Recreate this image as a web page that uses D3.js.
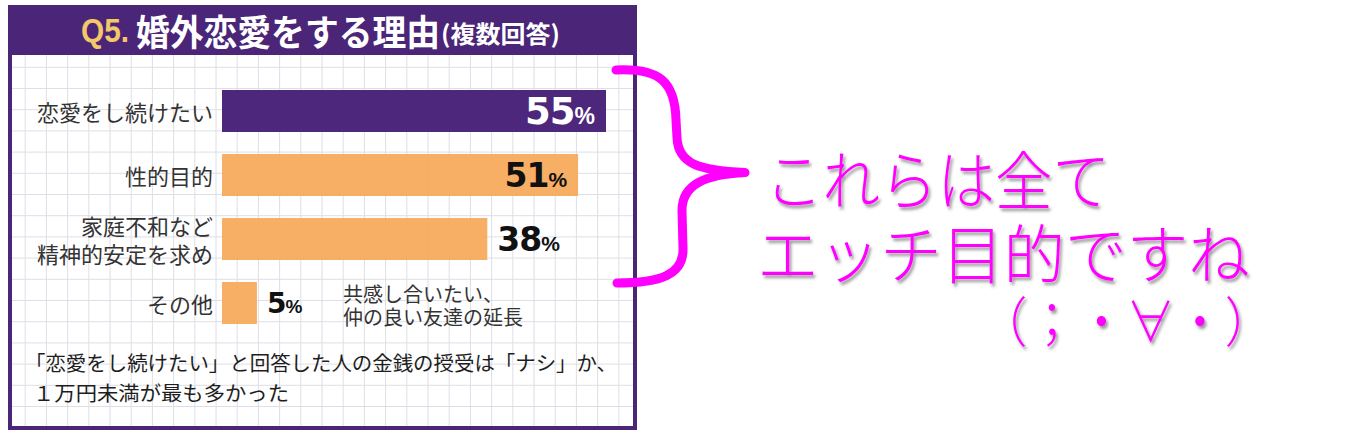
<!DOCTYPE html>
<html lang="ja">
<head>
<meta charset="utf-8">
<script src="https://cdn.jsdelivr.net/npm/d3@7"></script>
<style>
  body { margin: 0; background: #fff; }
  svg { display: block; }
</style>
</head>
<body>
<svg id="chart" width="1352" height="436"></svg>
<script>
// données
const titleQ = "Q5.";
const titleMain = "婚外恋愛をする理由";
const titleSub = "(複数回答)";
const categories = ["恋愛をし続けたい", "性的目的", "家庭不和など\n精神的安定を求め", "その他"];
const values = [55, 51, 38, 5];
const unit = "%";
const otherNote = ["共感し合いたい、", "仲の良い友達の延長"];
const footnote = ["「恋愛をし続けたい」と回答した人の金銭の授受は「ナシ」か、", "１万円未満が最も多かった"];
const comment = ["これらは全て", "エッチ目的ですね", "（；・∀・）"];

const purple = "#4a2578";
const barPurple = "#4d277c";
const orange = "#f6a95b";
const jp = "'Noto Sans CJK JP', 'Noto Sans', sans-serif";

const svg = d3.select("#chart");

const defs = svg.append("defs");
defs.append("filter").attr("id", "shadow")
  .attr("filterUnits", "userSpaceOnUse")
  .attr("x", 0).attr("y", 0).attr("width", 1352).attr("height", 436)
  .append("feDropShadow")
  .attr("dx", 2).attr("dy", 3).attr("stdDeviation", 1.6)
  .attr("flood-color", "#444").attr("flood-opacity", 0.55);

// panneau
const panel = {left: 8, right: 637, top: 5, head: 55, bottom: 430};

svg.append("rect")
  .attr("x", panel.left).attr("y", panel.top)
  .attr("width", panel.right - panel.left).attr("height", panel.bottom - panel.top)
  .attr("fill", purple);
svg.append("rect")
  .attr("x", panel.left + 4).attr("y", panel.head)
  .attr("width", panel.right - panel.left - 8).attr("height", panel.bottom - panel.head - 4)
  .attr("fill", "#fff");

// quadrillage
const grid = svg.append("g").attr("stroke", "#dedee6").attr("stroke-width", 1);
d3.range(4, panel.right, 21.2).filter(v => v > panel.left + 4 && v < panel.right - 4).forEach(v => {
  grid.append("line").attr("x1", v).attr("x2", v).attr("y1", panel.head).attr("y2", panel.bottom - 4);
});
d3.range(3.7, panel.bottom, 21.2).filter(v => v > panel.head && v < panel.bottom - 4).forEach(v => {
  grid.append("line").attr("x1", panel.left + 4).attr("x2", panel.right - 4).attr("y1", v).attr("y2", v);
});

// titre
const ty = 30;
svg.append("text").text(titleQ)
  .attr("x", 81).attr("y", ty).attr("dominant-baseline", "central")
  .attr("font-family", "'Liberation Sans', Arial, sans-serif").attr("font-weight", 700)
  .attr("font-size", 33).attr("fill", "#f3c868")
  .attr("textLength", 48).attr("lengthAdjust", "spacingAndGlyphs");
svg.append("text").text(titleMain)
  .attr("x", 136).attr("y", ty).attr("dominant-baseline", "central")
  .attr("font-family", jp).attr("font-weight", 700)
  .attr("font-size", 36).attr("fill", "#fff")
  .attr("textLength", 304).attr("lengthAdjust", "spacingAndGlyphs");
svg.append("text").text(titleSub)
  .attr("x", 441).attr("y", ty + 2).attr("dominant-baseline", "central")
  .attr("font-family", jp).attr("font-weight", 700)
  .attr("font-size", 24).attr("fill", "#fff")
  .attr("textLength", 119).attr("lengthAdjust", "spacingAndGlyphs");

// échelles
const y = d3.scaleBand()
  .domain(categories)
  .range([90, 324])
  .paddingInner(0.344)
  .paddingOuter(0);

const x = d3.scaleLinear()
  .domain([0, 55])
  .range([222, 606]);

// barres
svg.append("g").selectAll("rect")
  .data(values)
  .join("rect")
  .attr("x", x(0))
  .attr("y", (d, i) => y(categories[i]))
  .attr("width", d => x(d) - x(0))
  .attr("height", y.bandwidth())
  .attr("fill", (d, i) => i === 0 ? barPurple : orange)
  .attr("fill-opacity", (d, i) => i === 0 ? 1 : 0.94);

// libellés des catégories
const labels = svg.append("g")
  .attr("font-family", jp).attr("font-size", 22).attr("fill", "#333")
  .attr("text-anchor", "end");
categories.forEach(c => {
  const lines = c.split("\n");
  const mid = y(c) + y.bandwidth() / 2;
  lines.forEach((l, k) => {
    labels.append("text").text(l)
      .attr("x", 213)
      .attr("y", mid + (k - (lines.length - 1) / 2) * 28)
      .attr("dominant-baseline", "central");
  });
});

// valeurs
const numSize = [37, 33, 33, 28];
const pctSize = [23, 21, 21, 19];
values.forEach((v, i) => {
  const inside = x(v) - x(0) > 300;
  const mid = y(categories[i]) + y.bandwidth() / 2;
  const t = svg.append("text")
    .attr("x", inside ? x(v) - 11 : x(v) + 10)
    .attr("y", mid + numSize[i] * 0.36)
    .attr("text-anchor", inside ? "end" : "start")
    .attr("fill", inside && i === 0 ? "#fff" : "#111");
  t.append("tspan").text(v)
    .attr("font-family", "'DejaVu Sans', sans-serif").attr("font-weight", 700)
    .attr("font-size", numSize[i]).attr("letter-spacing", -1);
  t.append("tspan").text(unit)
    .attr("font-family", "'Liberation Sans', Arial, sans-serif").attr("font-weight", 700)
    .attr("font-size", pctSize[i]);
});

// note à côté de "その他"
const lastMid = y(categories[3]) + y.bandwidth() / 2;
otherNote.forEach((l, k) => {
  svg.append("text").text(l)
    .attr("x", 343).attr("y", lastMid - 10 + k * 23)
    .attr("dominant-baseline", "central")
    .attr("font-family", jp).attr("font-size", 20).attr("fill", "#333");
});

// note de bas
svg.append("text").text(footnote[0])
  .attr("x", 25).attr("y", 362).attr("dominant-baseline", "central")
  .attr("font-family", jp).attr("font-size", 20).attr("fill", "#1e1e1e")
  .attr("textLength", 592).attr("lengthAdjust", "spacingAndGlyphs");
svg.append("text").text(footnote[1])
  .attr("x", 33).attr("y", 392).attr("dominant-baseline", "central")
  .attr("font-family", jp).attr("font-size", 20).attr("fill", "#1e1e1e")
  .attr("textLength", 256).attr("lengthAdjust", "spacingAndGlyphs");

// accolade magenta
const bTop = y(categories[0]) - 20;
const bBot = y(categories[2]) + y.bandwidth() + 23;
const bMid = (bTop + bBot) / 2 - 4;
const brace = d3.path();
brace.moveTo(616, bTop);
brace.bezierCurveTo(660, bTop - 2, 675, bTop + 12, 676, bTop + 50);
brace.lineTo(677, bMid - 35);
brace.bezierCurveTo(678, bMid - 8, 700, bMid - 2, 745, bMid);
brace.bezierCurveTo(705, bMid + 2, 682, bMid + 12, 682, bMid + 38);
brace.lineTo(683, bBot - 35);
brace.bezierCurveTo(684, bBot - 8, 660, bBot, 617, bBot);
svg.append("path")
  .attr("d", brace.toString())
  .attr("fill", "none")
  .attr("stroke", "#ff00ff")
  .attr("stroke-width", 9)
  .attr("stroke-linecap", "round")
  .attr("stroke-linejoin", "round");

// commentaire
const cx = [765, 757, 978];
const cyy = [176, 250, 318];
const cw = [345, 493, 296];
const cs = [64, 64, 54];
comment.forEach((l, k) => {
  svg.append("text").text(l)
    .attr("x", cx[k]).attr("y", cyy[k])
    .attr("dominant-baseline", "central")
    .attr("font-family", jp).attr("font-weight", 300)
    .attr("font-size", cs[k]).attr("fill", "#ff00ff")
    .attr("textLength", cw[k]).attr("lengthAdjust", "spacingAndGlyphs")
    .attr("filter", "url(#shadow)");
});
</script>
</body>
</html>
